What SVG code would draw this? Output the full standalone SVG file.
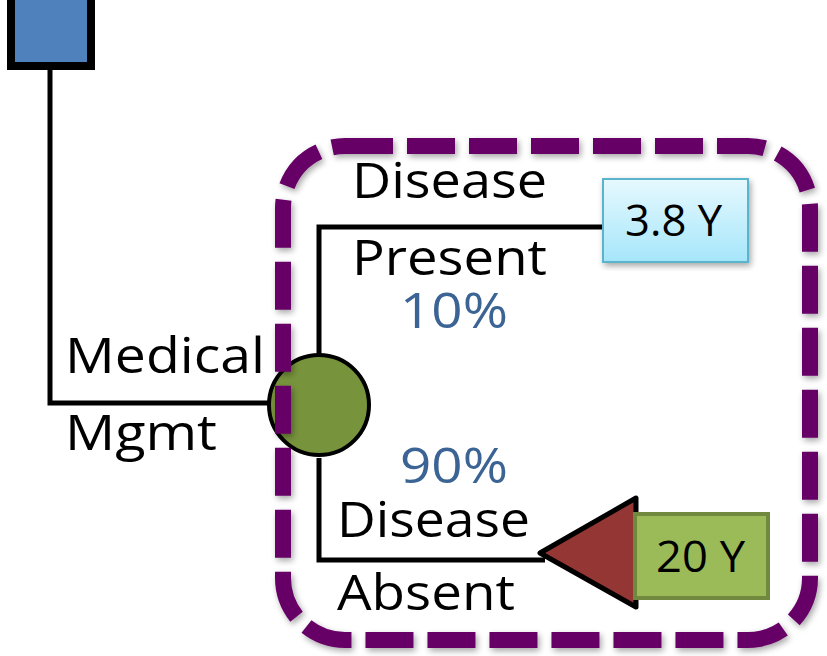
<svg xmlns="http://www.w3.org/2000/svg" width="827" height="656" viewBox="0 0 827 656">
<defs>
<linearGradient id="cyan" x1="0" y1="0" x2="0" y2="1">
<stop offset="0" stop-color="#e6f9ff"/>
<stop offset="1" stop-color="#a6e6fa"/>
</linearGradient>
<filter id="shadow" x="-10%" y="-10%" width="120%" height="120%">
<feGaussianBlur in="SourceAlpha" stdDeviation="3"/>
<feOffset dx="2" dy="3" result="b"/>
<feComponentTransfer><feFuncA type="linear" slope="0.35"/></feComponentTransfer>
<feMerge><feMergeNode/><feMergeNode in="SourceGraphic"/></feMerge>
</filter>
</defs>
<style>
.line{fill:none;stroke:#000;stroke-width:5}
.lbl{font-family:"Open Sans","Liberation Sans",sans-serif;font-size:49px;fill:#000}
.pct{font-family:"Open Sans","Liberation Sans",sans-serif;font-size:49px;fill:#3b6494}
.val{font-family:"Open Sans","Liberation Sans",sans-serif;font-size:44px;fill:#000}
</style>
<rect width="827" height="656" fill="#fff"/>
<g id="connectors">
<polyline class="line" points="50,68 50,403 270,403"/>
<polyline class="line" points="319,356 319,227 605,227"/>
<polyline class="line" points="319,458 319,560 545,560"/>
</g>
<g id="decision">
<rect x="11" y="-12" width="80" height="78" fill="#4f81bd" stroke="#000" stroke-width="8"/>
</g>
<g id="chance">
<circle cx="319" cy="405" r="50" fill="#77933c" stroke="#000" stroke-width="4"/>
</g>
<g id="terminal">
<polygon points="540,553 636,498 636,607" fill="#943634" stroke="#000" stroke-width="5" stroke-linejoin="round"/>
</g>
<g id="outcome-present">
<rect x="603" y="179" width="145" height="83" fill="url(#cyan)" stroke="#5ab4cc" stroke-width="2" filter="url(#shadow)"/>
<text class="val" x="625" y="236" textLength="97" lengthAdjust="spacingAndGlyphs">3.8 Y</text>
</g>
<g id="outcome-absent">
<rect x="635" y="514" width="133" height="84" fill="#9bbb59" stroke="#71893f" stroke-width="4"/>
<text class="val" x="656" y="572" textLength="89" lengthAdjust="spacingAndGlyphs">20 Y</text>
</g>
<g id="boundary">
<rect x="283" y="146" width="527" height="494" rx="62" ry="62" fill="none" stroke="#660066" stroke-width="16" stroke-dasharray="48 14" filter="url(#shadow)"/>
</g>
<g id="labels">
<text class="lbl" x="352" y="198" textLength="195" lengthAdjust="spacingAndGlyphs">Disease</text>
<text class="lbl" x="352" y="275" textLength="195" lengthAdjust="spacingAndGlyphs">Present</text>
<text class="pct" x="400" y="328" textLength="108" lengthAdjust="spacingAndGlyphs">10%</text>
<text class="lbl" x="65" y="373" textLength="200" lengthAdjust="spacingAndGlyphs">Medical</text>
<text class="lbl" x="65" y="450" textLength="152" lengthAdjust="spacingAndGlyphs">Mgmt</text>
<text class="pct" x="400" y="483" textLength="108" lengthAdjust="spacingAndGlyphs">90%</text>
<text class="lbl" x="337" y="537" textLength="193" lengthAdjust="spacingAndGlyphs">Disease</text>
<text class="lbl" x="337" y="610" textLength="178" lengthAdjust="spacingAndGlyphs">Absent</text>
</g>
</svg>
